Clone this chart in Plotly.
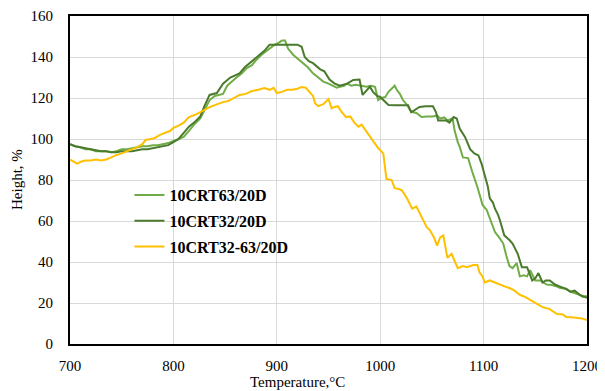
import plotly.graph_objects as go

# ---- data ----
names = ["10CRT63/20D", "10CRT32/20D", "10CRT32-63/20D"]
colors = ["#70AD47", "#4A7A2C", "#FFC000"]

t_63 = [700,705,710,715,720,725,730,735,740,745,750,755,760,765,770,775,780,785,790,795,
        800,805,810,815,820,826,830,835,840,845,848,852,856,861,866,871,876,880,885,891,
        895,898,902,905,908,911,916,921,926,930,935,940,945,950,954,958,961,965,968,972,
        976,980,983,987,991,995,998,1001,1005,1008,1012,1014,1016,1019,1022,1026,1029,1032,1035,1040,
        1045,1051,1055,1058,1062,1065,1070,1072,1075,1077,1080,1085,1089,1094,1099,1103,1107,1111,1115,1119,
        1122,1125,1128,1132,1135,1139,1142,1145,1150,1155,1161,1166,1171,1174,1180,1184,1187,1190,1193,1196,
        1200]
h_63 = [97.5,96.5,96,95,95,94,94,94,93.5,94,95,95,95.5,96,96.5,96.5,97,97,97.5,98,
        99,100,101,104,107,110,114,119,121,121.5,122,126,128,130,132,134.6,136,138.5,141,143.5,
        145,146,147,148,148,144,141,139,137,135,132,130,128,127,126,125,125.5,126,127,126,
        126.5,126,126,125.5,126,125.5,119,120,120.5,123,125,126,124,122,119,116.6,114,113,112.7,110.7,
        111,111,111.5,110,110.5,109,110,104,98.5,96,91,90.7,84,76.6,67.8,65.4,60,54.6,52,49,
        43,38,37,39.5,33,33.5,33,36,31,31,29,28.8,28,27.3,27,25.5,25,24.5,24,23,
        23.4]

t_32 = [700,705,710,715,720,725,730,735,740,745,750,755,760,765,770,775,780,785,790,795,
        800,805,810,815,820,826,830,835,842,848,855,860,864,869,874,879,884,888,893,898,
        905,912,920,924,927,931,935,942,946,951,956,961,968,974,980,983,987,990,993,997,
        1000,1003,1008,1015,1020,1027,1030,1033,1038,1044,1051,1054,1056,1060,1064,1067,1071,1074,1077,1082,
        1087,1091,1095,1098,1101,1104,1106,1109,1111,1114,1116,1120,1125,1128,1133,1137,1142,1145,1147,1150,
        1153,1157,1160,1164,1169,1174,1179,1184,1188,1193,1197,1200]
h_32 = [97.5,96.5,96,95.5,95,94.5,94,94,93.5,93.5,94,94,94,94.5,95,95,95.5,96,96.5,97,
        98.5,100,103,106,108,111,116,121.5,122.4,127,130,131,132,135,137,139,141,143,146,146,
        146,146,146,145,140,138,137,134,133,129,127,126,127,128.8,129,121.5,124,125.5,123,121,
        120.5,119,116.6,116.5,116.5,116.5,113,114,115.6,116,116,113,109,109,109,108,110.7,110,105,101,
        95,93,92,88,82,77,71,69,66,63,60,53,50.7,49,44,37.5,37.5,34,31,32,
        34.6,30,31,31,29,28,27,25.5,26,24,23,22.5]

t_mix = [700,704,707,711,715,720,725,730,735,740,744,750,755,761,765,770,773,778,782,787,
         793,797,800,805,810,815,822,829,835,840,848,853,858,864,870,876,882,888,893,897,
         900,905,910,915,920,924,928,932,935,937,940,945,950,953,955,959,963,967,971,975,
         979,982,986,990,994,998,1003,1006,1011,1014,1018,1021,1026,1031,1035,1038,1041,1045,1048,1052,
         1055,1058,1061,1065,1069,1072,1075,1080,1084,1090,1094,1096,1099,1101,1106,1111,1116,1121,1125,1130,
         1135,1140,1145,1150,1157,1164,1171,1176,1180,1185,1190,1195,1200]
h_mix = [90,89,88,89,89.5,89.5,90,89.5,90,91,92,93,94,95.5,96,97.5,99.5,100,100.5,102,
         103,104,105.5,106.5,108,110.7,112,114,115.5,116.5,118,118.5,120,121.5,122,123.4,124,124.9,124,125,
         122.4,123,124,124,124.5,125.4,125,123,121,117.5,116,117,119.5,115,115.5,116,113,110.7,111,108,
         106,107,104,101,98,95.6,93,80.5,80,76,75.6,75,71,66,67,64,60.5,57,55.6,52,
         48,52,53,42,44,40,37,38,37.5,38.5,38.5,35,33,30,31,30,28.8,28,27.3,26,
         24,23,21.5,20,18,17,14.6,14.5,13.2,13,12.7,12.5,11.7]

x_ticks = [700, 800, 900, 1000, 1100, 1200]
y_ticks = [0, 20, 40, 60, 80, 100, 120, 140, 160]

series = [(t_63, h_63), (t_32, h_32), (t_mix, h_mix)]
for t, h in series:
    assert len(t) == len(h), (len(t), len(h))

fig = go.Figure()
for (t, h), name, col in zip(series, names, colors):
    fig.add_trace(go.Scatter(x=t, y=h, mode="lines", name=name, legendgroup=name,
                             line=dict(color=col, width=2)))

serif = "Liberation Serif"
axis_common = dict(showline=True, mirror=True, linecolor="black", linewidth=2,
                   showgrid=True, gridcolor="#d9d9d9", gridwidth=1, zeroline=False,
                   automargin=False,
                   tickfont=dict(family=serif, size=15, color="black"), ticks="")

fig.update_xaxes(range=[700, 1200], tickvals=x_ticks, ticklabelstandoff=7, **axis_common)
fig.update_yaxes(range=[0, 160], tickvals=y_ticks, ticklabelstandoff=12, **axis_common)

fig.add_annotation(text="Height, %", xref="paper", yref="paper", x=-0.1025, y=0.5,
                   xanchor="center", yanchor="middle", textangle=-90, showarrow=False,
                   font=dict(family=serif, size=15, color="black"))
fig.add_annotation(text="Temperature,°C", xref="paper", yref="paper", x=0.441, y=-0.116,
                   xanchor="center", yanchor="middle", showarrow=False,
                   font=dict(family=serif, size=15, color="black"))

# the page body has an 8px margin, so the figure is sized to fill the rest of the window
fig.update_layout(
    width=597, height=383,
    margin=dict(l=62, r=18, t=8, b=47),
    plot_bgcolor="white", paper_bgcolor="white",
    legend=dict(x=0.115, y=0.506, xanchor="left", yanchor="top",
                bgcolor="rgba(0,0,0,0)", tracegroupgap=2,
                font=dict(family=serif, size=16, color="black", weight="bold")),
)

fig.write_html("out.html")
